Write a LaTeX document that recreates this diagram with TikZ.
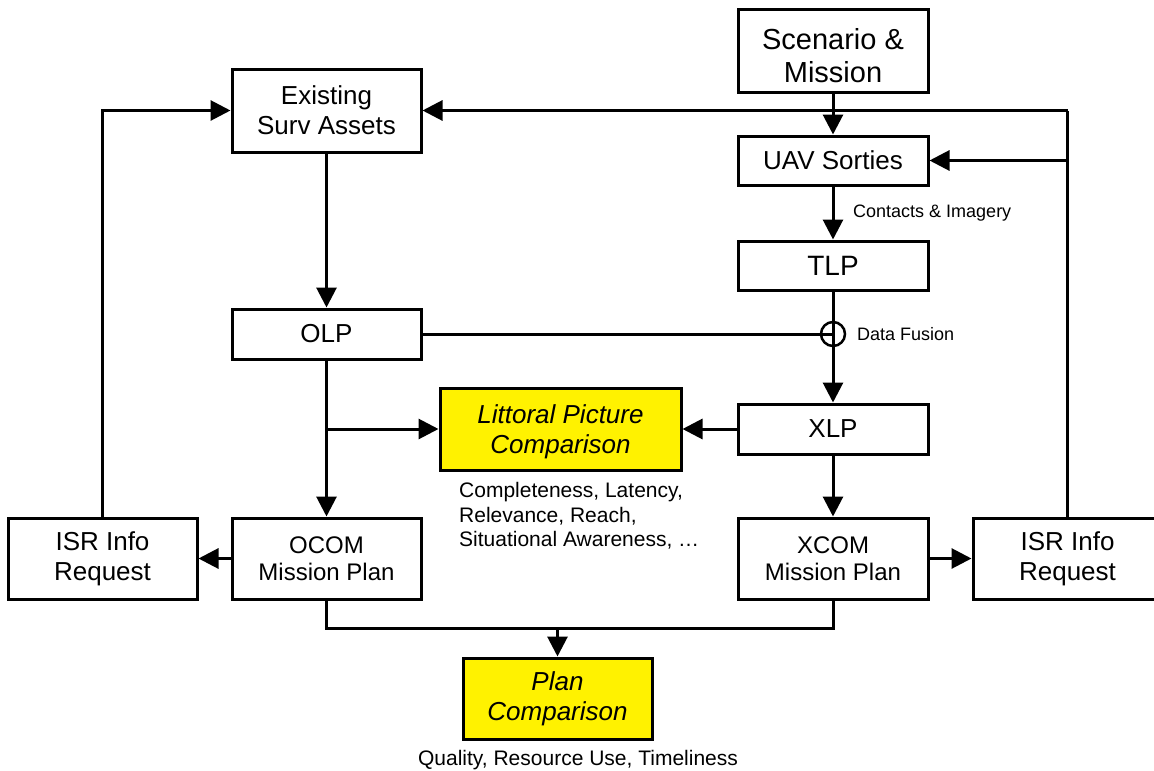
\documentclass[tikz,border=0pt]{standalone}
\usepackage{fontspec}
\setmainfont{Liberation Sans}
\usetikzlibrary{arrows.meta}
\begin{document}
\begin{tikzpicture}[x=1pt,y=-1pt,
  box/.style={draw=black, line width=3pt, fill=white, minimum width=189pt, inner sep=0pt, align=center},
  f26/.style={font=\fontsize{26}{30}\selectfont},
  f24/.style={font=\fontsize{24}{27.5}\selectfont},
  f29/.style={font=\fontsize{29}{33}\selectfont},
  hl/.style={box, fill=yellow, font=\fontsize{26}{30}\selectfont\itshape},
  ln/.style={line width=3pt},
  arr/.style={line width=3pt, -{Triangle[length=20pt,width=20pt]}},
  note/.style={font=\fontsize{18}{21}\selectfont, inner sep=0pt},
  crit/.style={font=\fontsize{21}{24.3}\selectfont, inner sep=0pt, align=left}
]
\clip (0,0) rectangle (1154,771);
\fill[white] (0,0) rectangle (1154,771);

% boxes
\node[box,minimum width=190pt,minimum height=83pt] (scen) at (833,50.5) {};
\node[f29,align=center,inner sep=0pt] (scentxt) at ([yshift=-5pt]scen.center) {Scenario \&\\Mission};
\node[box,f26,minimum height=83pt] (exist) at (326.5,110.5) {Existing\\Surv Assets};
\node[box,f26,minimum width=190pt,minimum height=49pt] (uav) at (833,160.5) {UAV Sorties};
\node[box,font=\fontsize{28}{32}\selectfont,minimum width=190pt,minimum height=49pt] (tlp) at (833,265.5) {TLP};
\node[box,f26,minimum height=50pt] (olp) at (326.5,334) {OLP};
\node[box,f26,minimum width=190pt,minimum height=50pt] (xlp) at (833,429) {XLP};
\node[hl,minimum width=241pt,minimum height=82pt] (lit) at (560.5,429) {};
\node[font=\fontsize{26}{30}\selectfont\itshape,align=center,inner sep=0pt] (littxt) at ([yshift=-3pt]lit.center) {Littoral Picture\\Comparison};
\node[box,f26,minimum height=81pt] (isrL) at (102.5,558.5) {ISR Info\\Request};
\node[box,f24,minimum height=81pt] (ocom) at (326.5,558.5) {OCOM\\Mission Plan};
\node[box,f24,minimum width=190pt,minimum height=81pt] (xcom) at (833,558.5) {XCOM\\Mission Plan};
\node[box,f26,minimum height=81pt] (isrR) at (1067.5,558.5) {ISR Info\\Request};
\node[hl,minimum height=81pt] (plan) at (557.5,698.5) {Plan\\Comparison};

% fusion circle
\node[draw=black, line width=2.5pt, circle, minimum size=24pt, inner sep=0pt] (fus) at (833,334) {};

% labels
\node[note, anchor=west] (lblci) at (853,213) {Contacts \& Imagery};
\node[note, anchor=west] (lbldf) at (857,334) {Data Fusion};
\node[crit, anchor=west] (lblcrit) at (459,516) {Completeness, Latency,\\Relevance, Reach,\\Situational Awareness, \dots};
\node[crit, anchor=center] (lblq) at (578,760) {Quality, Resource Use, Timeliness};

% connectors
\coordinate (tr) at (isrR.north |- exist.east);
\draw[ln] (isrR.north) -- (tr);
\draw[arr] (tr) -- (exist.east);
\draw[arr] (isrR.north |- uav.east) -- (uav.east);
\draw[arr] (isrL.north) |- (exist.west);
\draw[arr] (scen.south) -- (uav.north);
\draw[arr] (uav.south) -- (tlp.north);
\draw[arr] (tlp.south) -- (xlp.north);
\draw[ln] (olp.east) -- (fus.center);
\draw[arr] (exist.south) -- (olp.north);
\draw[arr] (olp.south) -- (ocom.north);
\coordinate (br) at (olp.south |- lit.west);
\draw[arr] (br) -- (lit.west);
\draw[arr] (xlp.west) -- (lit.east);
\draw[arr] (xlp.south) -- (xcom.north);
\draw[arr] (ocom.west) -- (isrL.east);
\draw[arr] (xcom.east) -- (isrR.west);
\coordinate (jn) at (557.5,628);
\draw[ln] (ocom.south) |- (jn) -| (xcom.south);
\draw[arr] (jn) -- (plan.north);
\end{tikzpicture}
\end{document}
